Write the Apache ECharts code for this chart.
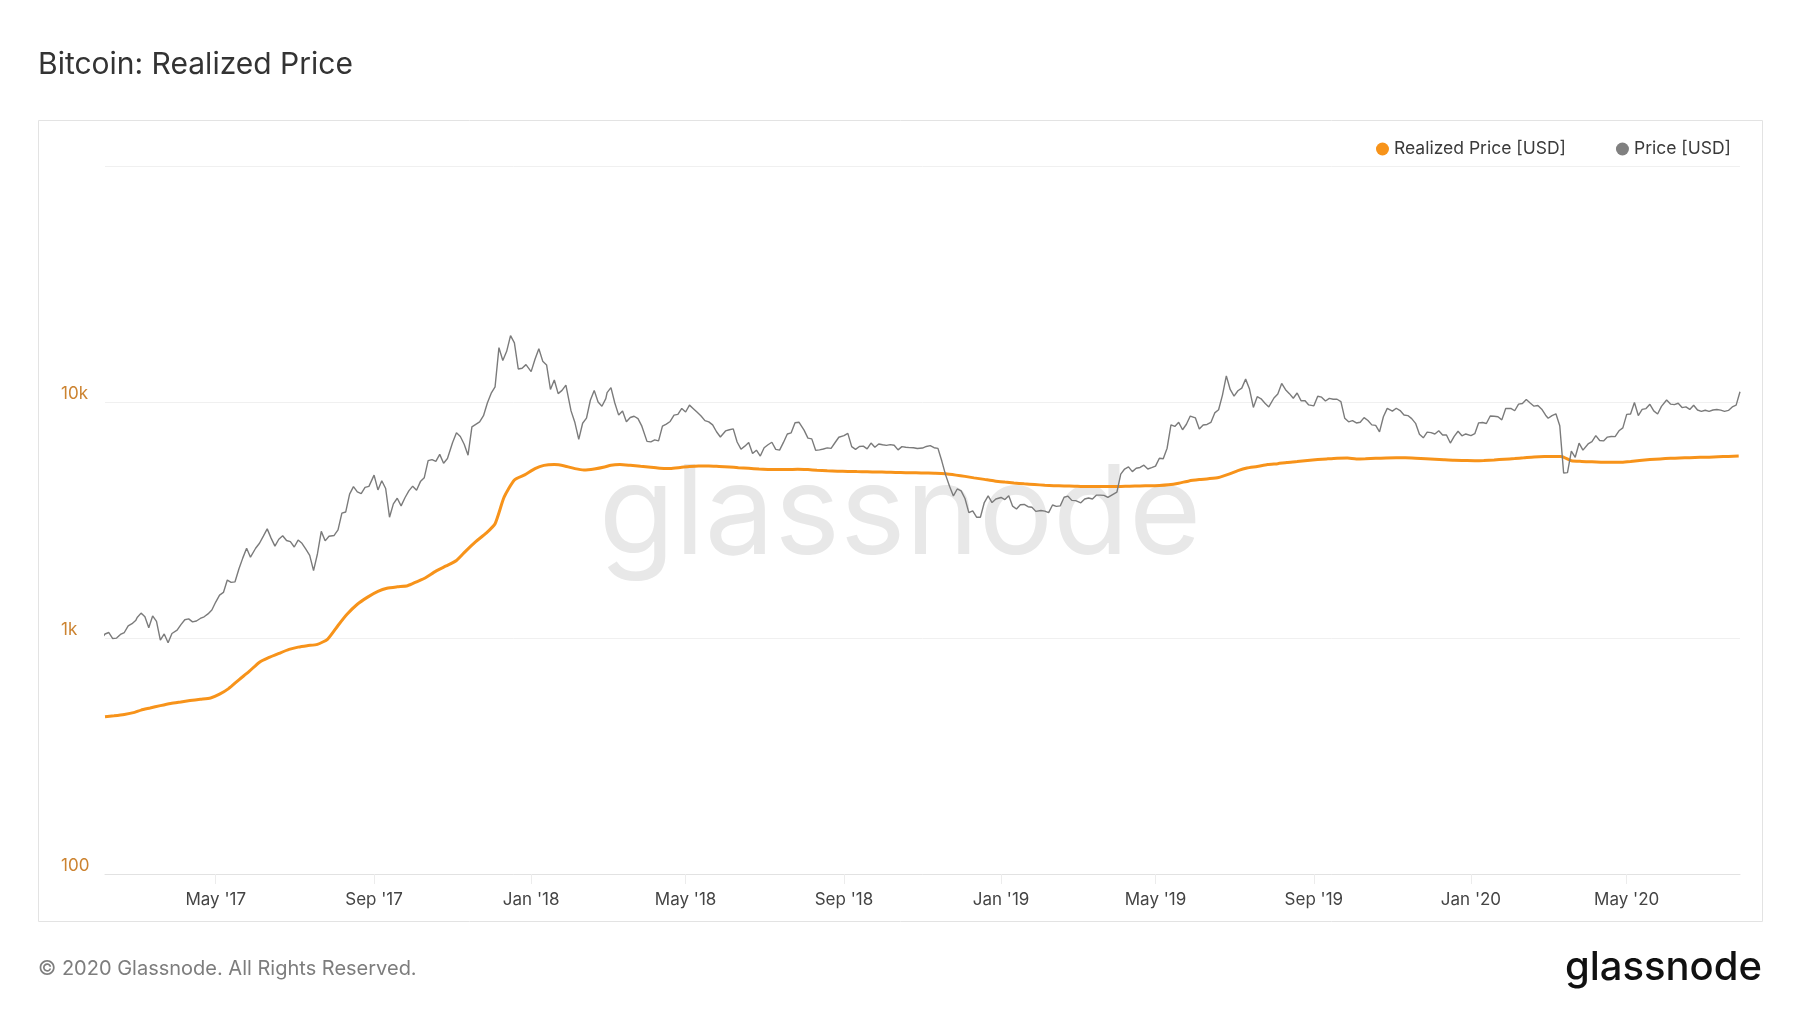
<!DOCTYPE html>
<html>
<head>
<meta charset="utf-8">
<script src="https://cdn.jsdelivr.net/npm/echarts@6/dist/echarts.min.js"></script>
<style>
html,body{margin:0;padding:0;background:#ffffff;}
#chart{width:1800px;height:1013px;}
</style>
</head>
<body>
<div id="chart"></div>
<script>
const chartTitle = 'Bitcoin: Realized Price';
const seriesNames = ['Realized Price [USD]', 'Price [USD]'];
const footerText = '\u00A9 2020 Glassnode. All Rights Reserved.';
const brandText = 'glassnode';

const xTickDates = ['2017-05-01','2017-09-01','2018-01-01','2018-05-01','2018-09-01','2019-01-01','2019-05-01','2019-09-01','2020-01-01','2020-05-01'];
const xTickLabels = ["May '17","Sep '17","Jan '18","May '18","Sep '18","Jan '19","May '19","Sep '19","Jan '20","May '20"];
const yTickValues = [100, 1000, 10000, 100000];
const yTickLabels = ['100', '1k', '10k', ''];
const xRange = ['2017-02-04', '2020-07-28'];

// Price [USD]: one row per month, values on days 1,4,7,...,28
const priceDays = [1, 4, 7, 10, 13, 16, 19, 22, 25, 28];
const price2017 = [ // Feb..Dec
  [990, 1040, 1055, 995, 999, 1035, 1055, 1125, 1150, 1190],
  [1222, 1275, 1230, 1105, 1240, 1175, 980, 1040, 955, 1045],
  [1080, 1140, 1195, 1205, 1170, 1180, 1210, 1230, 1265, 1315],
  [1420, 1520, 1560, 1760, 1720, 1730, 1960, 2180, 2400, 2200],
  [2400, 2520, 2700, 2900, 2650, 2450, 2620, 2710, 2590, 2560],
  [2430, 2600, 2520, 2380, 2240, 1930, 2270, 2830, 2580, 2700],
  [2720, 2870, 3380, 3420, 4070, 4380, 4160, 4090, 4350, 4390],
  [4900, 4240, 4640, 4300, 3250, 3700, 3910, 3630, 3930, 4200],
  [4400, 4230, 4600, 4780, 5640, 5700, 5600, 6000, 5500, 5760],
  [6740, 7400, 7140, 6620, 5950, 7850, 8040, 8230, 8750, 9900],
  [10900, 11600, 17000, 15000, 16400, 19100, 17800, 13800, 13900, 14400]
];
const price2018 = [
  [13450, 15170, 16800, 14900, 14360, 11300, 12400, 10850, 11200, 11800],
  [9170, 8180, 6950, 8130, 8540, 10170, 11200, 10000, 9590, 10330],
  [10950, 11500, 9900, 8800, 9150, 8250, 8600, 8700, 8500, 7900],
  [6810, 6780, 6910, 6840, 7900, 8060, 8270, 8800, 8860, 9390],
  [9070, 9700, 9370, 9040, 8720, 8340, 8240, 8000, 7480, 7110],
  [7540, 7630, 7690, 6770, 6310, 6500, 6730, 6050, 6250, 5900],
  [6400, 6590, 6750, 6300, 6250, 6740, 7320, 7400, 8170, 8210],
  [7600, 7030, 6980, 6240, 6270, 6320, 6390, 6360, 6720, 7090],
  [7200, 7360, 6470, 6300, 6480, 6500, 6330, 6700, 6430, 6640],
  [6590, 6550, 6600, 6560, 6270, 6470, 6430, 6410, 6400, 6350],
  [6380, 6480, 6530, 6400, 6360, 5620, 4900, 4400, 4000, 4280],
  [4200, 3900, 3400, 3460, 3250, 3250, 3750, 4000, 3750, 3880]
];
const price2019 = [
  [3940, 3860, 4010, 3620, 3520, 3670, 3680, 3600, 3580, 3440],
  [3470, 3450, 3400, 3660, 3610, 3630, 3950, 3990, 3830, 3820],
  [3830, 3740, 3880, 3920, 3880, 4030, 4030, 4020, 3940, 4030],
  [4150, 4950, 5200, 5310, 5070, 5240, 5280, 5400, 5200, 5270],
  [5350, 5780, 5750, 6370, 8000, 7880, 8200, 7630, 8050, 8720],
  [8560, 7680, 7990, 8030, 8190, 8990, 9270, 10700, 12900, 11300],
  [10590, 11160, 11450, 12500, 11350, 9480, 10530, 10320, 9880, 9530],
  [10400, 10820, 11980, 11280, 10850, 10370, 10920, 10130, 10140, 9720],
  [9630, 10580, 10480, 10100, 10360, 10270, 10270, 10030, 8530, 8240],
  [8340, 8150, 8210, 8590, 8350, 8000, 7960, 7470, 8660, 9400],
  [9150, 9410, 9200, 8810, 8760, 8500, 8120, 7300, 7050, 7450],
  [7420, 7320, 7560, 7250, 7250, 6700, 7150, 7520, 7190, 7320]
];
const price2020 = [ // Jan..Jul
  [7200, 7340, 8160, 8190, 8110, 8720, 8700, 8660, 8400, 9390],
  [9390, 9180, 9800, 9860, 10240, 9900, 9600, 9670, 9320, 8790],
  [8530, 8760, 8910, 7930, 5000, 5020, 6190, 5830, 6690, 6250],
  [6640, 6790, 7200, 6870, 6840, 7100, 7140, 7130, 7550, 7770],
  [8860, 8900, 9950, 8760, 9300, 9380, 9780, 9170, 8900, 9580],
  [10200, 9800, 9750, 9880, 9470, 9530, 9300, 9690, 9250, 9120],
  [9230, 9130, 9250, 9290, 9240, 9130, 9210, 9530, 9700, 11050]
];

// Realized Price [USD]: one row per month, values on days 4,11,19,27
const realizedDays = [4, 11, 19, 27];
const realized2017 = [ // Feb..Dec
  [464, 468, 474, 484],
  [495, 505, 517, 528],
  [536, 543, 550, 557],
  [578, 610, 665, 722],
  [790, 825, 860, 895],
  [915, 928, 940, 990],
  [1130, 1260, 1390, 1490],
  [1575, 1625, 1648, 1665],
  [1730, 1800, 1920, 2020],
  [2130, 2330, 2560, 2780],
  [3050, 3950, 4670, 4910]
];
const realized2018 = [
  [5220, 5390, 5430, 5360],
  [5220, 5150, 5200, 5300],
  [5400, 5430, 5390, 5340],
  [5290, 5240, 5230, 5280],
  [5330, 5360, 5360, 5330],
  [5300, 5270, 5240, 5200],
  [5180, 5170, 5170, 5190],
  [5170, 5140, 5110, 5090],
  [5080, 5070, 5060, 5050],
  [5040, 5030, 5020, 5010],
  [5000, 4990, 4960, 4900],
  [4840, 4770, 4700, 4630]
];
const realized2019 = [
  [4580, 4540, 4500, 4470],
  [4440, 4420, 4410, 4400],
  [4390, 4380, 4380, 4380],
  [4390, 4400, 4410, 4420],
  [4430, 4460, 4530, 4630],
  [4690, 4730, 4790, 4950],
  [5120, 5250, 5330, 5430],
  [5480, 5540, 5590, 5650],
  [5700, 5740, 5780, 5790],
  [5740, 5750, 5770, 5790],
  [5800, 5800, 5780, 5750],
  [5720, 5690, 5660, 5650]
];
const realized2020 = [ // Jan..Jul
  [5640, 5650, 5680, 5720],
  [5760, 5800, 5850, 5870],
  [5870, 5870, 5640, 5600],
  [5580, 5560, 5550, 5560],
  [5600, 5650, 5700, 5740],
  [5770, 5790, 5810, 5830],
  [5840, 5860, 5880, 5900]
];

function toTime(s) { const p = s.split('-').map(Number); return Date.UTC(p[0], p[1] - 1, p[2]); }
function buildSeries(blocks, days) {
  const out = [];
  blocks.forEach(([year, firstMonth, rows]) => {
    rows.forEach((row, m) => {
      row.forEach((v, i) => out.push([Date.UTC(year, firstMonth + m, days[i]), v]));
    });
  });
  return out;
}
const priceData = buildSeries([[2017, 1, price2017], [2018, 0, price2018], [2019, 0, price2019], [2020, 0, price2020]], priceDays);
const realizedData = buildSeries([[2017, 1, realized2017], [2018, 0, realized2018], [2019, 0, realized2019], [2020, 0, realized2020]], realizedDays);
const xTickTimes = xTickDates.map(toTime);

const FONT = 'Inter, "Noto Sans", sans-serif';
const chart = echarts.init(document.getElementById('chart'), null, { renderer: 'canvas' });
chart.setOption({
  animation: false,
  backgroundColor: '#ffffff',
  title: {
    text: chartTitle, left: 38, top: 50, padding: 0,
    textStyle: { fontFamily: FONT, fontSize: 30, fontWeight: 'normal', color: '#333333' }
  },
  legend: {
    right: 64, top: 135, itemGap: 50, itemWidth: 13, itemHeight: 13, icon: 'circle',
    data: seriesNames,
    textStyle: { fontFamily: FONT, fontSize: 17.5, color: '#3a3a3a' }
  },
  grid: { left: 105, right: 60, top: 166, bottom: 139, containLabel: false, outerBoundsMode: 'none' },
  xAxis: {
    type: 'value',
    min: toTime(xRange[0]), max: toTime(xRange[1]),
    axisLine: { show: true, lineStyle: { color: '#e2e2e2', width: 1 } },
    axisTick: { show: true, length: 10, customValues: xTickTimes, lineStyle: { color: '#ececec' } },
    axisLabel: {
      customValues: xTickTimes, margin: 17, fontFamily: FONT, fontSize: 17, color: '#444444',
      formatter: function (v) { const i = xTickTimes.indexOf(v); return i >= 0 ? xTickLabels[i] : ''; }
    },
    splitLine: { show: false }
  },
  yAxis: {
    type: 'log', logBase: 10, min: 100, max: 100000,
    axisLine: { show: false }, axisTick: { show: false },
    axisLabel: {
      align: 'left', margin: 44, verticalAlign: 'bottom', fontFamily: FONT, fontSize: 17, color: '#cc8330',
      formatter: function (v) { const i = yTickValues.findIndex(t => Math.abs(t - v) < 1e-6 * t); return i >= 0 ? yTickLabels[i] : ''; }
    },
    splitLine: { show: true, lineStyle: { color: '#f0f0f0', width: 1 } }
  },
  graphic: [
    { type: 'rect', z: -10, silent: true, shape: { x: 38.5, y: 120.5, width: 1724, height: 801 },
      style: { fill: 'none', stroke: '#e3e3e3', lineWidth: 1 } },
    { type: 'text', z: -5, silent: true, x: 900, y: 517,
      style: { text: brandText, fill: '#e8e8e8', font: 'normal 124px Inter, "Noto Sans", sans-serif', textAlign: 'center', textVerticalAlign: 'middle' } },
    { type: 'text', silent: true, x: 38, y: 969,
      style: { text: footerText, fill: '#7d7d7d', font: 'normal 20px Inter, "Noto Sans", sans-serif', textAlign: 'left', textVerticalAlign: 'middle' } },
    { type: 'text', silent: true, x: 1762, y: 968,
      style: { text: brandText, fill: '#111111', font: '500 40px Inter, "Noto Sans", sans-serif', textAlign: 'right', textVerticalAlign: 'middle' } }
  ],
  series: [
    {
      name: seriesNames[0], type: 'line', data: realizedData, showSymbol: false, symbol: 'circle',
      smooth: 0.2, clip: true, z: 3,
      itemStyle: { color: '#f7931a' },
      lineStyle: { color: '#f7931a', width: 3 }
    },
    {
      name: seriesNames[1], type: 'line', data: priceData, showSymbol: false, symbol: 'circle',
      clip: true, z: 4,
      itemStyle: { color: '#808080' },
      lineStyle: { color: '#7b7b7b', width: 1.4 }
    }
  ]
});
</script>
</body>
</html>
